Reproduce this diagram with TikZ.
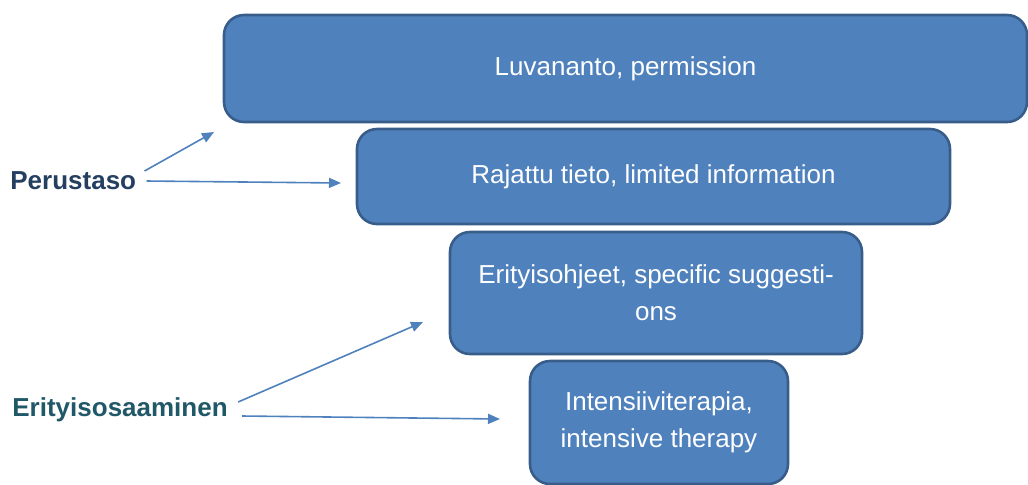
\documentclass[tikz,border=0pt]{standalone}
\usepackage{fontspec}
\setmainfont{Liberation Sans}
\usetikzlibrary{arrows.meta,positioning}

\definecolor{boxblue}{HTML}{4F81BD}
\definecolor{boxedge}{HTML}{385D8A}
\definecolor{perusnavy}{HTML}{243F60}
\definecolor{eritteal}{HTML}{215868}

\begin{document}
\begin{tikzpicture}[
  x=0.5pt, y=-0.5pt,
  font=\fontsize{13}{18.5}\selectfont,
  level/.style={draw=boxedge, line width=1.3pt, fill=boxblue, rounded corners=10pt, align=center, text=white, inner sep=0pt},
  tag/.style={anchor=west, font=\fontsize{13}{16}\selectfont\bfseries, inner sep=0pt},
  arrow/.style={-{Triangle[length=6pt, width=5pt]}, line width=0.8pt, draw=boxblue}
]
\useasboundingbox (0,0) rectangle (1028,484);

\node[level, minimum width=401.5pt, minimum height=53.5pt] (luva) at (625.5,68.5)
  {Luvananto, permission};
\node[level, minimum width=296.5pt, minimum height=47.5pt] (rajattu) at (653.5,176.5)
  {Rajattu tieto, limited information};
\node[level, minimum width=206pt, minimum height=61pt] (erit) at (656,293)
  {Erityisohjeet, specific suggesti-\\ons};
\node[level, minimum width=129pt, minimum height=61.5pt] (intens) at (659,422.5)
  {Intensiiviterapia,\\intensive therapy};

\node[tag, text=perusnavy] (perus) at (10,181) {Perustaso};
\node[tag, text=eritteal] (erityis) at (12,410) {Erityisosaaminen};

\coordinate (luvatip) at (214,132);
\coordinate (rajtip) at (341,183);
\coordinate (erittip) at (423,322);
\coordinate (intenstip) at (500,419);

\draw[arrow] ([xshift=4pt, yshift=5pt]perus.east) -- (luvatip);
\draw[arrow] ([xshift=5pt]perus.east) -- (rajtip);
\draw[arrow] ([xshift=5pt, yshift=4pt]erityis.east) -- (erittip);
\draw[arrow] ([xshift=7pt, yshift=-3pt]erityis.east) -- (intenstip);

\end{tikzpicture}
\end{document}
